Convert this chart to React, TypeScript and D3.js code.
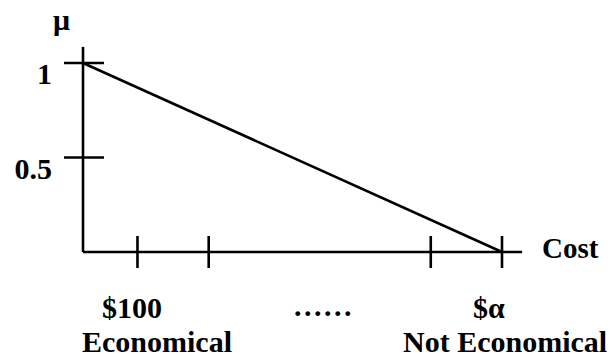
import React from "react";
import * as d3 from "d3";

// Membership function: cost (normalised) -> mu
const costPoints = [0, 1];
const muPoints = [1, 0];
const xTickValues = [0.13, 0.3, 0.83, 1];
const yTickValues = [0.5, 1];
const yTickLabels = ["0.5", "1"];
const yAxisLabel = "\u03bc";
const xAxisLabel = "Cost";
const bottomLabels = ["$100", "......", "$\u03b1"];
const categoryLabels = ["Economical", "Not Economical"];

const W = 610;
const H = 357;
const FONT = "'Liberation Serif', 'Times New Roman', serif";

export default function App() {
  const x = d3.scaleLinear().domain([0, 1]).range([83, 502]);
  const y = d3.scaleLinear().domain([0, 1]).range([252, 63]);
  const data = costPoints.map((c, i) => ({ c, m: muPoints[i] }));
  const line = d3
    .line<{ c: number; m: number }>()
    .x((d) => x(d.c))
    .y((d) => y(d.m));

  const xEnd = x(1.048);
  const yTop = y(1.085);
  const sw = 2.6;
  const txt = { fontFamily: FONT, fontWeight: 700 as const, fontSize: 30, fill: "#000" };

  return (
    <svg
      width={W}
      height={H}
      style={{ position: "absolute", left: 0, top: 0, background: "#fff" }}
    >
      <rect width={W} height={H} fill="#fff" />
      {/* axes */}
      <line x1={x(0)} y1={yTop} x2={x(0)} y2={y(0)} stroke="#000" strokeWidth={sw} />
      <line x1={x(0)} y1={y(0)} x2={xEnd} y2={y(0)} stroke="#000" strokeWidth={sw} />
      {/* y ticks */}
      {yTickValues.map((v, i) => (
        <g key={"yt" + i}>
          <line x1={x(0) - 19} x2={x(0) + 21} y1={y(v)} y2={y(v)} stroke="#000" strokeWidth={sw} />
          <text x={x(0) - 31} y={y(v) + 21} textAnchor="end" {...txt}>
            {yTickLabels[i]}
          </text>
        </g>
      ))}
      {/* x ticks */}
      {xTickValues.map((v, i) => (
        <line key={"xt" + i} x1={x(v)} x2={x(v)} y1={y(0) - 16} y2={y(0) + 16} stroke="#000" strokeWidth={sw} />
      ))}
      {/* membership line */}
      <path d={line(data) || ""} fill="none" stroke="#000" strokeWidth={sw} />
      {/* labels */}
      <text x={53} y={30} {...txt}>
        {yAxisLabel}
      </text>
      <text x={542} y={258} {...txt} fontSize={29}>
        {xAxisLabel}
      </text>
      <text x={102} y={318} {...txt}>
        {bottomLabels[0]}
      </text>
      <text x={294} y={316} {...txt} letterSpacing={2.5}>
        {bottomLabels[1]}
      </text>
      <text x={473} y={318} {...txt}>
        {bottomLabels[2]}
      </text>
      <text x={82} y={352} {...txt}>
        {categoryLabels[0]}
      </text>
      <text x={403} y={352} {...txt}>
        {categoryLabels[1]}
      </text>
    </svg>
  );
}
